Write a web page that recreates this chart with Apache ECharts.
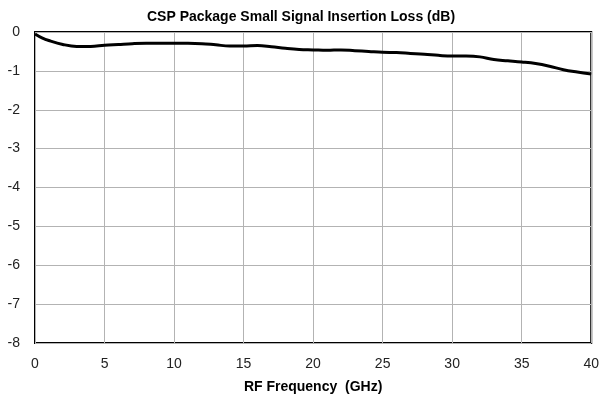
<!DOCTYPE html>
<html>
<head>
<meta charset="utf-8">
<script src="https://cdn.jsdelivr.net/npm/echarts@6/dist/echarts.min.js"></script>
<style>
  html, body { margin: 0; padding: 0; background: #fff; }
  #chart { width: 602px; height: 408px; }
</style>
</head>
<body>
<div id="chart"></div>
<script>
// RF frequency (GHz) and insertion loss (dB)
var freq = [0, 0.5, 1, 2, 3, 4, 5, 6, 7, 8, 9, 10, 11, 12, 13, 14, 15, 16, 17, 18, 19, 20,
            21, 22, 23, 24, 25, 26, 27, 28, 29, 30, 31, 32, 33, 34, 35, 36, 37, 38, 39, 40];
var loss = [-0.05, -0.15, -0.22, -0.32, -0.37, -0.37, -0.34, -0.32, -0.30, -0.29, -0.29, -0.29,
            -0.29, -0.30, -0.33, -0.36, -0.36, -0.35, -0.38, -0.42, -0.45, -0.46,
            -0.47, -0.46, -0.48, -0.50, -0.52, -0.53, -0.55, -0.57, -0.60, -0.62,
            -0.62, -0.64, -0.71, -0.74, -0.77, -0.81, -0.88, -0.97, -1.03, -1.08];

var points = freq.map(function (f, i) { return [f, loss[i]]; });

var chart = echarts.init(document.getElementById('chart'), null, { renderer: 'canvas' });
var font = '"Liberation Sans", "DejaVu Sans", sans-serif';

chart.setOption({
  animation: false,
  backgroundColor: '#fff',
  title: {
    text: 'CSP Package Small Signal Insertion Loss (dB)',
    left: 'center',
    top: 5,
    textStyle: { fontFamily: font, fontSize: 14, fontWeight: 'bold', color: '#000' }
  },
  grid: {
    left: 35, right: 10, top: 32, bottom: 65,
    show: true, borderColor: '#000', borderWidth: 2
  },
  xAxis: {
    type: 'value',
    min: 0, max: 40, interval: 5,
    name: 'RF Frequency  (GHz)',
    nameLocation: 'middle',
    nameGap: 37,
    nameTextStyle: { fontFamily: font, fontSize: 14, fontWeight: 'bold', color: '#000' },
    axisLine: { show: false },
    axisTick: { show: false },
    axisLabel: { fontFamily: font, fontSize: 14, color: '#222', margin: 14 },
    splitLine: { show: true, lineStyle: { color: '#b3b3b3', width: 1 } }
  },
  yAxis: {
    type: 'value',
    min: -8, max: 0, interval: 1,
    axisLine: { show: false },
    axisTick: { show: false },
    axisLabel: { fontFamily: font, fontSize: 14, color: '#222', margin: 15 },
    splitLine: { show: true, lineStyle: { color: '#b3b3b3', width: 1 } }
  },
  series: [{
    type: 'line',
    data: points,
    smooth: 0.4,
    showSymbol: false,
    lineStyle: { color: '#000', width: 3 }
  }]
});
</script>
</body>
</html>
